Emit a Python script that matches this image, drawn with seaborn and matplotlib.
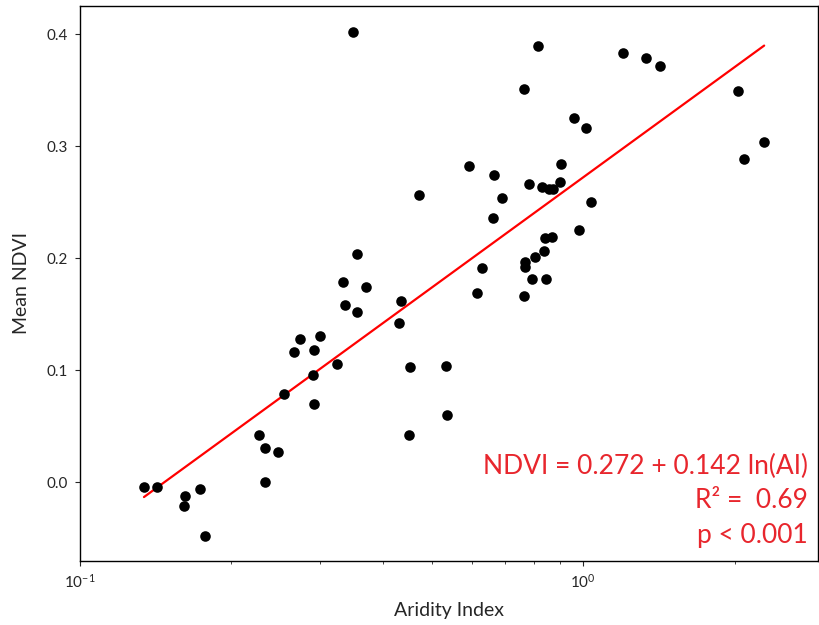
import numpy as np
import pandas as pd
import matplotlib
matplotlib.use("Agg")
import matplotlib.pyplot as plt
import seaborn as sns

# Aridity index (x) and mean NDVI (y)
aridity = [
    0.349, 0.814, 1.201, 1.334, 1.423, 0.763, 2.033, 0.960, 1.014, 2.290,
    2.090, 0.593, 0.665, 0.904, 0.472, 0.690, 0.781, 0.829, 0.856, 0.872,
    0.900, 1.037, 0.663, 0.982, 0.840, 0.868, 0.837, 0.803, 0.767, 0.767,
    0.630, 0.792, 0.844, 0.616, 0.763, 0.355, 0.333, 0.370, 0.435, 0.336,
    0.355, 0.431, 0.274, 0.300, 0.266, 0.292, 0.324, 0.290, 0.453, 0.534,
    0.254, 0.292, 0.537, 0.227, 0.233, 0.247, 0.451, 0.233, 0.134, 0.142,
    0.162, 0.161, 0.173, 0.177,
]
mean_ndvi = [
    0.402, 0.389, 0.383, 0.379, 0.371, 0.351, 0.349, 0.325, 0.316, 0.304,
    0.288, 0.282, 0.274, 0.284, 0.256, 0.254, 0.266, 0.263, 0.262, 0.262,
    0.268, 0.250, 0.236, 0.225, 0.218, 0.219, 0.206, 0.201, 0.196, 0.192,
    0.191, 0.181, 0.181, 0.169, 0.166, 0.204, 0.179, 0.174, 0.162, 0.158,
    0.152, 0.142, 0.128, 0.130, 0.116, 0.118, 0.105, 0.0955, 0.103, 0.104,
    0.0786, 0.0696, 0.0598, 0.042, 0.030, 0.027, 0.042, 0.000, -0.0045, -0.0045,
    -0.0125, -0.0214, -0.0063, -0.0482,
]

# fitted model shown on the chart
INTERCEPT = 0.272
SLOPE = 0.142
R2 = 0.69

sns.set_style("ticks")
plt.rcParams["font.family"] = ["Lato", "DejaVu Sans"]
plt.rcParams["axes.edgecolor"] = "black"

df = pd.DataFrame({"AI": aridity, "NDVI": mean_ndvi})
ai_fit = np.geomspace(df["AI"].min(), df["AI"].max(), 200)
fit = pd.DataFrame({"AI": ai_fit, "NDVI": INTERCEPT + SLOPE * np.log(ai_fit)})

fig = plt.figure(figsize=(8.19, 6.25), dpi=100)
ax = fig.add_axes([0.0977, 0.1024, 0.9011, 0.888])

sns.scatterplot(data=df, x="AI", y="NDVI", color="black", s=58,
                linewidth=0, ax=ax, zorder=3)
sns.lineplot(data=fit, x="AI", y="NDVI", color="red", linewidth=1.6,
             ax=ax, zorder=2)

ax.set_xscale("log")
ax.set_xlim(0.1, 2.93)
ax.set_ylim(-0.0705, 0.425)
ax.set_yticks([0.0, 0.1, 0.2, 0.3, 0.4])
ax.set_xlabel("Aridity Index", fontsize=14, labelpad=8)
ax.set_ylabel("Mean NDVI", fontsize=14, labelpad=12)
ax.tick_params(labelsize=11, pad=5)
for sp in ax.spines.values():
    sp.set_visible(True)
    sp.set_linewidth(1.0)

red = "#e8262d"
ax.text(0.986, 0.1568, f"NDVI = {INTERCEPT:.3f} + {SLOPE:.3f} ln(AI)",
        transform=ax.transAxes, ha="right", va="baseline", color=red, fontsize=19)
ax.text(0.986, 0.0955, f"R\u00b2 =  {R2:.2f}",
        transform=ax.transAxes, ha="right", va="baseline", color=red, fontsize=19)
ax.text(0.986, 0.0324, "p < 0.001",
        transform=ax.transAxes, ha="right", va="baseline", color=red, fontsize=19)

fig.savefig("out.png", dpi=100)
